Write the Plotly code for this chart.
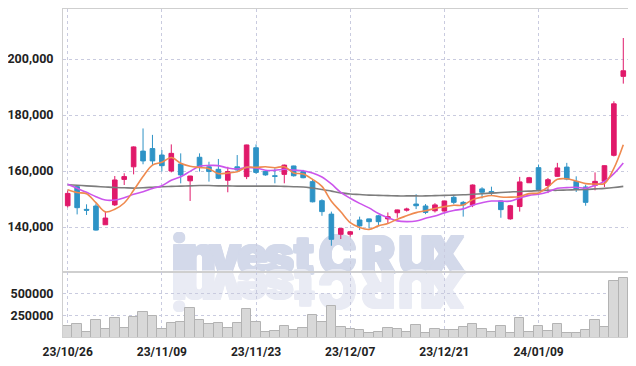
import pandas as pd
import plotly.graph_objects as go

# ---------------- data ----------------
dates = [
    "2023-10-26", "2023-10-27", "2023-10-30", "2023-10-31",
    "2023-11-01", "2023-11-02", "2023-11-03", "2023-11-06", "2023-11-07", "2023-11-08",
    "2023-11-09", "2023-11-10", "2023-11-13", "2023-11-14", "2023-11-15", "2023-11-16",
    "2023-11-17", "2023-11-20", "2023-11-21", "2023-11-22", "2023-11-23", "2023-11-24",
    "2023-11-27", "2023-11-28", "2023-11-29", "2023-11-30",
    "2023-12-01", "2023-12-04", "2023-12-05", "2023-12-06", "2023-12-07", "2023-12-08",
    "2023-12-11", "2023-12-12", "2023-12-13", "2023-12-14", "2023-12-15", "2023-12-18",
    "2023-12-19", "2023-12-20", "2023-12-21", "2023-12-22", "2023-12-26", "2023-12-27",
    "2023-12-28",
    "2024-01-02", "2024-01-03", "2024-01-04", "2024-01-05", "2024-01-08", "2024-01-09",
    "2024-01-10", "2024-01-11", "2024-01-12", "2024-01-15", "2024-01-16", "2024-01-17",
    "2024-01-18", "2024-01-19", "2024-01-22",
]
opens = [147600, 154400, 146300, 147500, 140800, 147900, 157000, 161500, 167100, 168000,
         165700, 160000, 162500, 156500, 164900, 161500, 160600, 156700, 161500, 158000,
         168300, 159800, 158300, 158800, 161800, 159800, 156200, 149400, 144600, 137400,
         137400, 142500, 142900, 144000, 142900, 145100, 146000, 148200, 147500, 145800,
         145700, 150600, 148800, 147900, 153600, 152700, 149300, 142900, 147300, 155800,
         161200, 154800, 158100, 161400, 156300, 154300, 154900, 156300, 165600, 193800]
highs = [153000, 154800, 148100, 148400, 145500, 158200, 159200, 168800, 175200, 172900,
         167500, 169500, 166300, 158300, 166300, 163300, 164300, 161500, 165700, 169400,
         169500, 160000, 161000, 162300, 161900, 160400, 156800, 149900, 145500, 139600,
         138600, 143700, 143000, 144300, 145200, 146200, 146900, 151700, 148200, 148500,
         149400, 151400, 149300, 155200, 154200, 154400, 149500, 147900, 157900, 157900,
         162300, 157500, 162900, 162900, 158100, 155100, 159500, 162000, 184900, 207500]
lows = [147000, 144500, 144300, 138700, 140800, 147500, 155000, 158800, 162400, 162100,
        159800, 159500, 155600, 149300, 159800, 156200, 157100, 152400, 160000, 157100,
        159000, 158300, 155600, 155600, 158000, 157400, 148800, 144000, 133300, 135700,
        136500, 138900, 139500, 140400, 141300, 143300, 145500, 146400, 144600, 145200,
        145500, 148100, 143700, 147100, 150200, 151400, 143300, 142600, 145500, 155800,
        153400, 152100, 157900, 156700, 152500, 147600, 153100, 154300, 165200, 191200]
closes = [152000, 146900, 146000, 138900, 143200, 156800, 158000, 168600, 163600, 163600,
          161900, 166300, 158600, 158200, 161300, 159800, 157400, 159800, 160400, 169300,
          159500, 158600, 158100, 162100, 158300, 157600, 149000, 145500, 135600, 139500,
          138300, 140400, 141900, 141900, 143700, 146100, 146400, 147600, 145200, 147900,
          149300, 148800, 147900, 155000, 152400, 152100, 146200, 147600, 156100, 157600,
          153400, 156900, 161100, 157100, 153600, 148800, 156300, 161900, 184000, 195800]
volumes = [134000, 153000, 64000, 197000, 97000, 220000, 108000, 231000, 286000, 245000,
           97000, 164000, 175000, 331000, 197000, 156000, 164000, 108000, 164000, 320000,
           175000, 64000, 75000, 130000, 86000, 108000, 253000, 175000, 360000, 126000,
           97000, 86000, 59000, 70000, 108000, 97000, 70000, 141000, 59000, 97000,
           86000, 86000, 119000, 153000, 97000, 70000, 130000, 52000, 220000, 64000,
           130000, 75000, 153000, 52000, 52000, 86000, 197000, 119000, 640000, 666000]
# moving-average values before a full window exists in the visible range
ma5_head = [153300, 152300, 151900, 148700]
ma10_head = [155240, 153810, 152380, 150830, 149640, 149640, 150470, 151670, 152620]
# long moving average (grey line)
ma_long = [155100, 154900, 154700, 154500, 154300, 154100, 154000, 153900, 154000, 154200,
           154400, 154500, 154600, 154700, 154800, 154800, 154700, 154700, 154600, 154600,
           154600, 154600, 154600, 154500, 154400, 154300, 153900, 153400, 152800, 152200,
           151800, 151600, 151400, 151300, 151200, 151100, 151100, 151100, 151100, 151200,
           151300, 151400, 151500, 151700, 151900, 152100, 152300, 152500, 152700, 152800,
           153000, 153100, 153100, 153200, 153300, 153400, 153600, 153800, 154100, 154500]
tick_dates = ["2023-10-26", "2023-11-09", "2023-11-23", "2023-12-07", "2023-12-21", "2024-01-09"]
price_ticks = [140000, 160000, 180000, 200000]
volume_ticks = [250000, 500000]
watermark = "investCRUX"

# ---------------- derived ----------------
def short(d):
    return d[2:].replace("-", "/")

labels = [short(d) for d in dates]
tick_labels = [short(d) for d in tick_dates]
cs = pd.Series(closes, dtype=float)
ma5 = cs.rolling(5).mean().tolist()
ma10 = cs.rolling(10).mean().tolist()
ma5[:len(ma5_head)] = ma5_head
ma10[:len(ma10_head)] = ma10_head

# ---------------- style ----------------
RED = "#e0196a"
BLUE = "#2e93c6"
GRID = "#c9cbdf"
FRAME = "#cfcfcf"
YFONT = dict(family="Roboto, sans-serif", size=12.5, color="#222222", weight="bold")
XFONT = dict(family="Roboto, sans-serif", size=12, color="#222222", weight="bold")

# the page body adds an 8px offset; margins compensate so the plot lands where intended
OFF = 8
W, H = 636, 366
PLOT_L, PLOT_R, PLOT_T, PLOT_B = 63, 628, 9, 337      # on-screen plot box
ML, MT = PLOT_L - OFF, PLOT_T - OFF
MR, MB = W - (PLOT_R - OFF), H - (PLOT_B - OFF)
PW, PH = PLOT_R - PLOT_L, PLOT_B - PLOT_T
VOL_FRAC = 65 / PH

fig = go.Figure()

fig.add_trace(go.Candlestick(
    x=labels, open=opens, high=highs, low=lows, close=closes,
    increasing=dict(line=dict(color=RED, width=1), fillcolor=RED),
    decreasing=dict(line=dict(color=BLUE, width=1), fillcolor=BLUE),
    whiskerwidth=0, xaxis="x", yaxis="y", showlegend=False, hoverinfo="skip",
))
fig.add_trace(go.Scatter(x=labels, y=ma_long, mode="lines", line=dict(color="#7d7d7d", width=1.6, shape="spline"),
                         xaxis="x", yaxis="y", showlegend=False, hoverinfo="skip"))
fig.add_trace(go.Scatter(x=labels, y=ma10, mode="lines", line=dict(color="#cc55ec", width=1.6, shape="spline"),
                         xaxis="x", yaxis="y", showlegend=False, hoverinfo="skip"))
fig.add_trace(go.Scatter(x=labels, y=ma5, mode="lines", line=dict(color="#ef8a4f", width=1.6, shape="spline"),
                         xaxis="x", yaxis="y", showlegend=False, hoverinfo="skip"))
fig.add_trace(go.Bar(x=labels, y=volumes, marker=dict(color="#d8d8d8", line=dict(color="#b3b3b3", width=1)),
                     xaxis="x2", yaxis="y2", showlegend=False, hoverinfo="skip"))

# watermark letters (text drawn below the data), with a faint mirrored copy
letter_px = [179.2, 199.2, 225.0, 252.5, 279.2, 304.0, 337.5, 378.3, 416.7, 445.8]
BASE_Y = 271.5
CAP = 37.5
WM_FONT = "Inter, Lato, Roboto, sans-serif"
WM_SIZE = 51

def px_x(x):
    return (x - PLOT_L) / PW

def px_y(y):
    return (PLOT_B - y) / PH

def heavy(c):
    return ", ".join(f"{dx}px {dy}px 0 {c}" for dx, dy in
                     [(1, 0), (-1, 0), (0, 1), (0, -1), (1, 1), (-1, -1), (1, -1), (-1, 1)])

shapes = []
for ch, cx in zip(watermark, letter_px):
    shapes.append(dict(
        type="rect", xref="paper", yref="paper", layer="below",
        x0=px_x(cx - 15), x1=px_x(cx + 15), y0=px_y(BASE_Y), y1=px_y(BASE_Y - CAP),
        line=dict(width=0), fillcolor="rgba(0,0,0,0)",
        label=dict(text=ch, textposition="middle center",
                   font=dict(family=WM_FONT, size=WM_SIZE, color="#d3d9ea", weight=900,
                             shadow=heavy("#d3d9ea"))),
    ))
    shapes.append(dict(
        type="rect", xref="paper", yref="paper", layer="below",
        x0=px_x(cx - 15), x1=px_x(cx + 15), y0=px_y(BASE_Y + 1 + CAP), y1=px_y(BASE_Y + 1),
        line=dict(width=0), fillcolor="rgba(0,0,0,0)",
        label=dict(text=ch, textposition="middle center", textangle=180,
                   font=dict(family=WM_FONT, size=WM_SIZE, color="#e9ebf4", weight=900,
                             shadow=heavy("#e9ebf4"))),
    ))

axis_common = dict(showline=True, linecolor=FRAME, linewidth=1, mirror=True, ticks="",
                   showgrid=True, gridcolor=GRID, griddash="dot", gridwidth=1, zeroline=False,
                   automargin=False)

fig.update_layout(
    width=W, height=H,
    margin=dict(l=ML, r=MR, t=MT, b=MB, autoexpand=False),
    paper_bgcolor="white", plot_bgcolor="white",
    hovermode=False, bargap=0, boxgap=0.3,
    xaxis=dict(axis_common, type="category", domain=[0, 1], anchor="y", range=[-0.5, len(dates) - 0.5],
               tickvals=tick_labels, showticklabels=False, rangeslider=dict(visible=False)),
    yaxis=dict(axis_common, domain=[VOL_FRAC, 1], anchor="x", range=[123929, 217857],
               tickvals=price_ticks, tickformat=",", ticklabelstandoff=6, tickfont=YFONT),
    xaxis2=dict(axis_common, type="category", domain=[0, 1], anchor="y2", matches="x",
                range=[-0.5, len(dates) - 0.5], tickvals=tick_labels, ticktext=tick_labels,
                ticklabelstandoff=4, tickfont=XFONT),
    yaxis2=dict(axis_common, domain=[0, VOL_FRAC], anchor="x2", range=[10000, 738000],
                tickvals=volume_ticks, tickformat="d", ticklabelstandoff=6, tickfont=YFONT),
    shapes=shapes,
)

fig.write_html("out.html")
